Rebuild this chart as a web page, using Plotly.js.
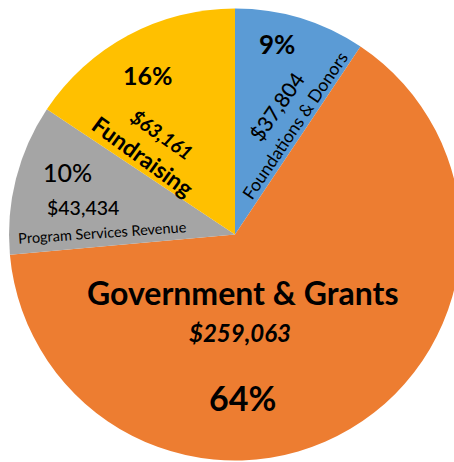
<!DOCTYPE html>
<html>
<head>
<meta charset="utf-8">
<script src="https://cdn.plot.ly/plotly-3.0.1.min.js"></script>
<style>
html,body{margin:0;padding:0;overflow:hidden;background:#fff;}
#chart{width:462px;height:462px;}
</style>
</head>
<body>
<div id="chart"></div>
<script>
const categories = ["Foundations & Donors", "Government & Grants", "Program Services Revenue", "Fundraising"];
const amounts = [37804, 259063, 43434, 63161];
const amountLabels = ["$37,804", "$259,063", "$43,434", "$63,161"];
const percentLabels = ["9%", "64%", "10%", "16%"];
const colors = ["#5B9BD5", "#ED7D31", "#A5A5A5", "#FFC000"];

const W = 462, H = 462;
function px(x){ return x / W; }
function py(y){ return 1 - y / H; }

const FONT = "Lato, 'Open Sans', sans-serif";
function ann(text, x, y, size, opts) {
  opts = opts || {};
  return {
    text: text, x: px(x), y: py(y), xref: "paper", yref: "paper",
    showarrow: false, xanchor: "center", yanchor: "middle",
    textangle: opts.angle || 0,
    font: {family: FONT, size: size, color: "#000", weight: opts.weight || 400, style: opts.style || "normal"}
  };
}

const annotations = [
  ann(percentLabels[0], 277, 44, 26, {weight: 700}),
  ann(amountLabels[0], 276, 106, 21, {angle: -55, weight: 500}),
  ann(categories[0], 295, 126, 17.5, {angle: -56}),
  ann(percentLabels[3], 148, 75, 25, {weight: 700}),
  ann(amountLabels[3], 162, 134, 19.5, {angle: 35, weight: 700, style: "italic"}),
  ann(categories[3], 143, 156, 23, {angle: 36, weight: 700}),
  ann(percentLabels[2], 67, 172, 25, {weight: 500}),
  ann(amountLabels[2], 83, 207, 19.5, {weight: 500}),
  ann(categories[2], 102, 232, 14.5, {angle: -4}),
  ann(categories[1], 242, 292, 32, {weight: 700}),
  ann(amountLabels[1], 240, 332, 24, {weight: 700, style: "italic"}),
  ann(percentLabels[1], 242, 397, 34, {weight: 700})
];

const data = [{
  type: "pie",
  labels: categories,
  values: amounts,
  sort: false,
  direction: "clockwise",
  rotation: 0,
  marker: {colors: colors, line: {width: 0}},
  textinfo: "none",
  hoverinfo: "label+value+percent",
  showlegend: false,
  domain: {x: [px(9), px(461)], y: [py(460.5), py(8.5)]}
}];

const layout = {
  width: W, height: H,
  margin: {l: 0, r: 0, t: 0, b: 0},
  paper_bgcolor: "#fff",
  showlegend: false,
  annotations: annotations
};

Plotly.newPlot("chart", data, layout, {displayModeBar: false, staticPlot: true});
</script>
</body>
</html>
